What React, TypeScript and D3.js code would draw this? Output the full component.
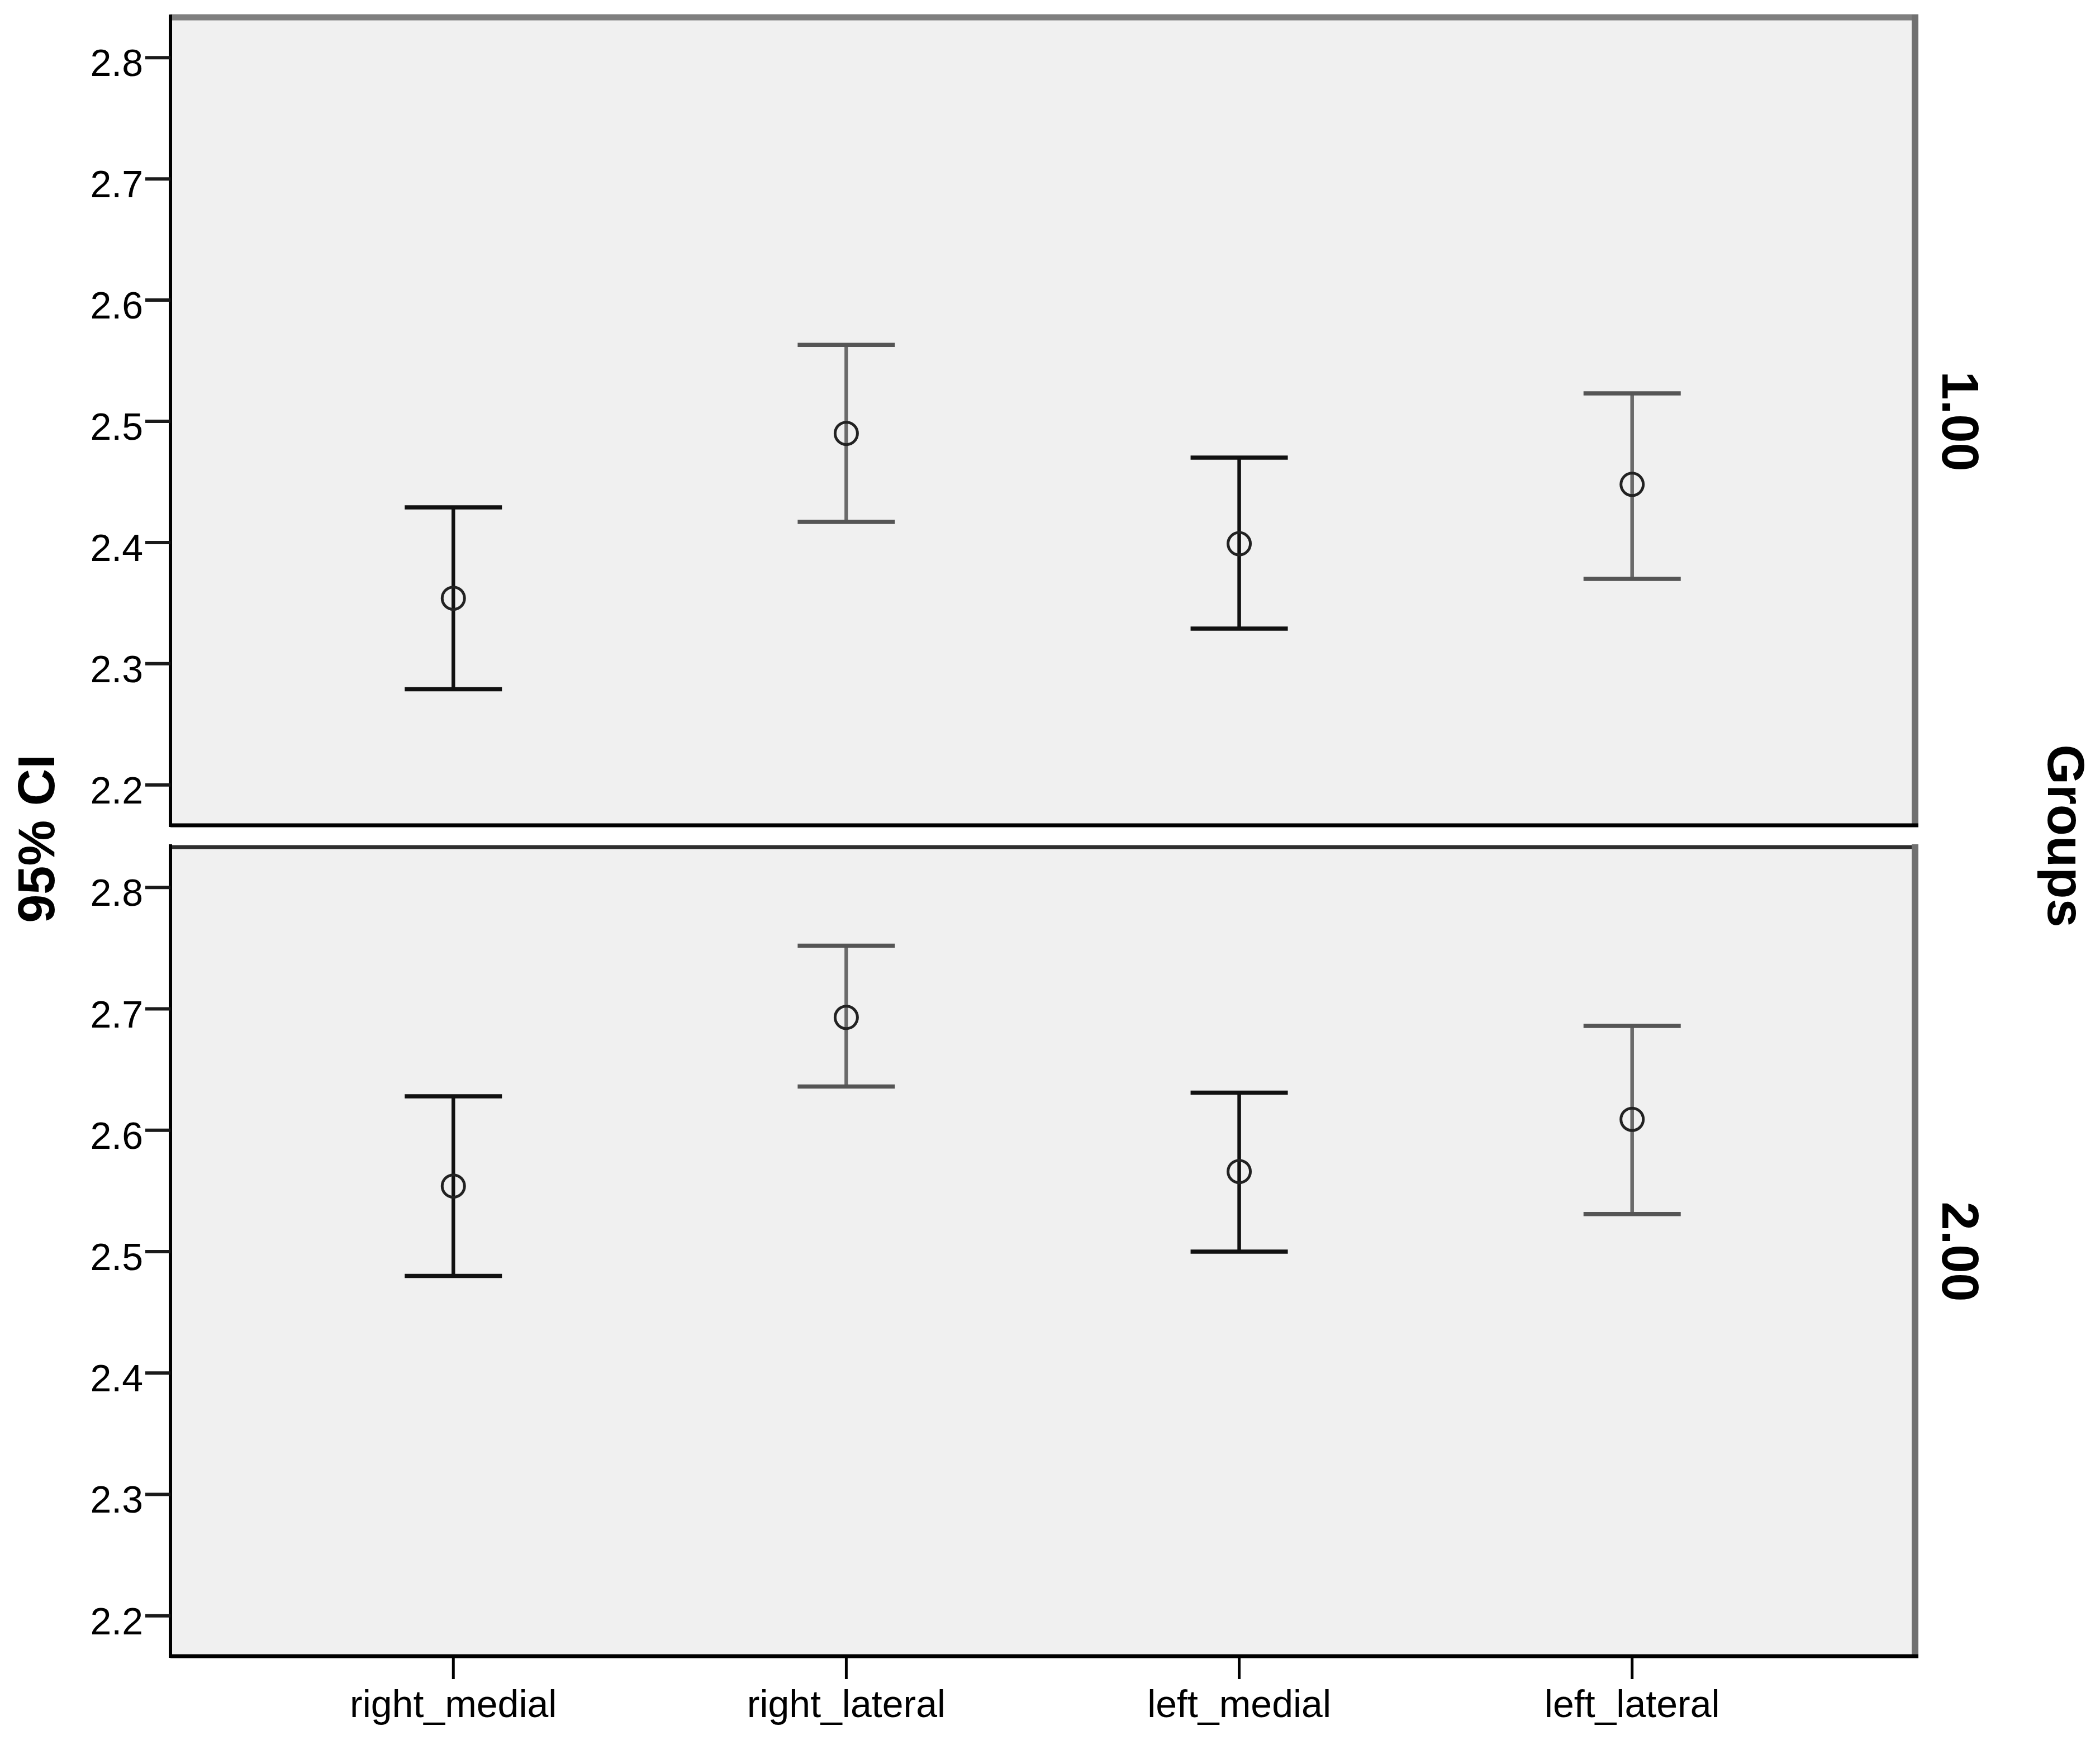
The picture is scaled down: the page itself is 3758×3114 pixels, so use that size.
import React from 'react';
import * as d3 from 'd3';

const categories = ['right_medial', 'right_lateral', 'left_medial', 'left_lateral'];
const groups = ['1.00', '2.00'];

// 95% CI per group: mean, lower, upper
const group1Mean = [2.354, 2.490, 2.399, 2.448];
const group1Lower = [2.279, 2.417, 2.329, 2.370];
const group1Upper = [2.429, 2.563, 2.470, 2.523];

const group2Mean = [2.554, 2.693, 2.566, 2.609];
const group2Lower = [2.480, 2.636, 2.500, 2.531];
const group2Upper = [2.628, 2.752, 2.631, 2.686];

const yTicks = [2.2, 2.3, 2.4, 2.5, 2.6, 2.7, 2.8];

const W = 3758;
const H = 3114;
const left = 305;
const right = 3427;
const panels = [
  { top: 31, bottom: 1477, mean: group1Mean, lower: group1Lower, upper: group1Upper, topColor: '#7f7f7f', topWidth: 11 },
  { top: 1516, bottom: 2964, mean: group2Mean, lower: group2Lower, upper: group2Upper, topColor: '#2e2e2e', topWidth: 7 },
];

const font = '"Liberation Sans", Arial, sans-serif';

const App = () => {
  const x = d3.scalePoint<string>().domain(categories).range([left, right]).padding(0.72);
  const fmt = d3.format('.1f');
  const capHalf = 87;

  return (
    <svg width={W} height={H} style={{ position: 'absolute', left: 0, top: 0, background: '#fff' }}
      fontFamily={font}>
      <rect x={0} y={0} width={W} height={H} fill="#fff" />
      {panels.map((p, pi) => {
        const y = d3.scaleLinear().domain([2.1667, 2.8333]).range([p.bottom, p.top]);
        return (
          <g key={pi}>
            <rect x={left} y={p.top} width={right - left} height={p.bottom - p.top} fill="#f0f0f0" />
            {/* frame */}
            <line x1={left} x2={right + 6} y1={p.top} y2={p.top} stroke={p.topColor} strokeWidth={p.topWidth} />
            <line x1={right} x2={right} y1={p.top - 5} y2={p.bottom + 3} stroke="#707070" strokeWidth={12} />
            <line x1={left} x2={right + 6} y1={p.bottom} y2={p.bottom} stroke="#000" strokeWidth={7} />
            <line x1={left} x2={left} y1={p.top - 5} y2={p.bottom + 3} stroke="#000" strokeWidth={6} />
            {/* y axis ticks */}
            {yTicks.map((t) => (
              <g key={t}>
                <line x1={left - 45} x2={left} y1={y(t)} y2={y(t)} stroke="#1a1a1a" strokeWidth={6} />
                <text x={256} y={y(t) + 33} textAnchor="end" fontSize={68} fill="#000">{fmt(t)}</text>
              </g>
            ))}
            {/* error bars */}
            {categories.map((c, i) => {
              const cx = x(c) as number;
              const lateral = c.endsWith('lateral');
              const col = lateral ? '#555' : '#111';
              return (
                <g key={c}>
                  <line x1={cx} x2={cx} y1={y(p.upper[i])} y2={y(p.lower[i])} stroke={lateral ? '#6a6a6a' : '#111'} strokeWidth={6.5} />
                  <line x1={cx - capHalf} x2={cx + capHalf} y1={y(p.upper[i])} y2={y(p.upper[i])} stroke={col} strokeWidth={7.5} />
                  <line x1={cx - capHalf} x2={cx + capHalf} y1={y(p.lower[i])} y2={y(p.lower[i])} stroke={col} strokeWidth={7.5} />
                  <circle cx={cx} cy={y(p.mean[i])} r={20} fill="none" stroke="#222" strokeWidth={5} />
                </g>
              );
            })}
            {/* group label */}
            <text transform={`translate(3476, ${(p.top + p.bottom) / 2}) rotate(90)`} textAnchor="middle"
              fontSize={92} fontWeight="bold" fill="#000">{groups[pi]}</text>
          </g>
        );
      })}
      {/* x axis ticks and labels */}
      {categories.map((c) => (
        <g key={c}>
          <line x1={x(c)} x2={x(c)} y1={2964} y2={3005} stroke="#000" strokeWidth={5} />
          <text x={x(c)} y={3073} textAnchor="middle" fontSize={68} fill="#000">{c}</text>
        </g>
      ))}
      <text transform="translate(97, 1501) rotate(-90)" textAnchor="middle" fontSize={92} fontWeight="bold" fill="#000">95% CI</text>
      <text transform="translate(3665, 1496) rotate(90)" textAnchor="middle" fontSize={92} fontWeight="bold" fill="#000">Groups</text>
    </svg>
  );
};

export default App;
